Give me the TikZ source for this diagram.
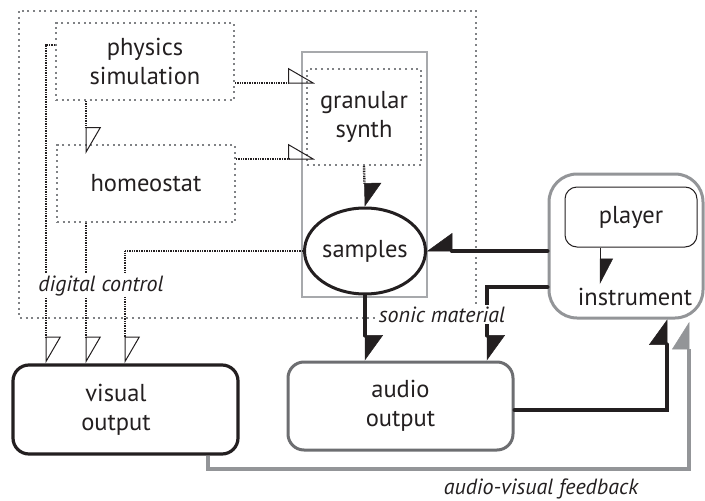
\documentclass[tikz,border=0pt]{standalone}
\usepackage{fontspec}
\setmainfont{PT Sans}
\usetikzlibrary{arrows.meta,shapes.geometric,calc}
\definecolor{ink}{HTML}{231F20}
\definecolor{dotgray}{HTML}{808285}
\definecolor{midgray}{HTML}{6D6E71}
\definecolor{ltgray}{HTML}{939598}
\definecolor{boxgray}{HTML}{A7A9AC}
\begin{document}
\begin{tikzpicture}[x=1pt,y=-1pt,
  lbl/.style={font=\fontsize{24.5}{29.5}\selectfont, align=center, text=ink},
  itl/.style={font=\fontsize{22}{26}\selectfont\itshape, text=ink},
  dotbox/.style={draw=dotgray, line width=2pt, dash pattern=on 2pt off 3.6pt, lbl},
  ctrl/.style={draw=ink, line width=2.4pt, dash pattern=on 0.9pt off 0.8pt},
  heavy/.style={draw=ink, line width=4pt, line cap=round},
  opentip/.style={-{Triangle[open, left, length=26pt, width=30pt, line width=1pt]}},
  fulltip/.style={-{Triangle[#1, length=25pt, width=36pt, line width=0.5pt]}}
]
\useasboundingbox (0,0) rectangle (705,501);
% outer digital-control frame
\draw[draw=dotgray, line width=2pt, dash pattern=on 2pt off 3.6pt] (19,11) rectangle (476,318);

\node[dotbox, minimum width=178pt, minimum height=77pt] (phys) at (145,61.5) {physics\\simulation};
\node[dotbox, minimum width=178pt, minimum height=77pt] (homeo) at (146,183.5) {homeostat};
\node[draw=boxgray, line width=2.2pt, minimum width=125pt, minimum height=245pt] (gcont) at (364.5,174.5) {};
\node[dotbox, minimum width=114pt, minimum height=96pt] (gran) at (364,117) {granular\\synth};
\node[ellipse, draw=ink, line width=3pt, minimum width=120pt, minimum height=86pt, inner sep=0pt, lbl] (samples) at (365,251) {samples};

\node[draw=ltgray, line width=3pt, rounded corners=28pt, minimum width=154pt, minimum height=144pt] (icont) at (626,246) {};
\node[draw=ink, line width=1pt, rounded corners=12pt, minimum width=132pt, minimum height=60pt, lbl] (player) at (631,217) {player};
\node[lbl, anchor=base] (instr) at (635,305) {instrument};

\node[draw=ink, line width=3.2pt, rounded corners=16pt, minimum width=225pt, minimum height=89pt] (visual) at (125.5,409.5) {};
\node[lbl] (vtext) at (116,410) {visual\\output};
\node[draw=midgray, line width=3pt, rounded corners=16pt, minimum width=225pt, minimum height=88pt, lbl] (audio) at (400.5,406) {audio\\output};

% digital control connectors
\draw[ctrl, opentip] (phys.east |- 0,83) -- ($(gran.west |- 0,83)+(9,0)$);
\draw[ctrl, opentip] (homeo.east |- 0,159) -- ($(gran.west |- 0,159)+(9,0)$);
\draw[ctrl, opentip] (phys.south -| 86,0) -- ($(homeo.north -| 86,0)+(0,10)$);
\draw[ctrl, opentip] (phys.west |- 0,45) -| (visual.north -| 46,0);
\draw[ctrl, opentip] (homeo.south -| 86,0) -- (visual.north -| 86,0);
\draw[ctrl, line width=1.6pt, opentip] (samples.west) -| (visual.north -| 125,0);
\draw[ctrl, -{Triangle[left, length=23pt, width=34pt, line width=0.5pt]}] (gran.south) -- (samples.north);

% sonic material connectors
\draw[heavy, fulltip=left] (samples.south) -- (audio.north -| samples.south);
\draw[heavy, fulltip=right] (icont.west |- samples.east) -- (samples.east);
\draw[heavy, fulltip=left] (icont.west |- 0,287) -| (audio.north -| 487,0);
\draw[heavy, fulltip=left] (audio.east |- 0,410) -| (icont.south -| 667,0);
\draw[draw=ink, line width=1pt, -{Triangle[left, length=25pt, width=26pt, line width=0.5pt]}] (player.south -| 600,0) -- (instr.north -| 600,0);

% audio-visual feedback
\coordinate (fbend) at (689,322);
\draw[draw=ltgray, line width=4pt, -{Triangle[left, length=27pt, width=34pt, line width=0.5pt, fill=ltgray]}] (visual.south -| 208,0) |- (fbend |- 0,469) -- (fbend);

% labels
\node[itl, anchor=base, fill=white, inner sep=1.5pt] (dc) at (101,291) {digital control};
\node[itl, anchor=base, fill=white, inner sep=1.5pt] (sm) at (442,322) {sonic material};
\node[itl, anchor=base, inner sep=1pt] (avf) at (541,494) {audio-visual feedback};
\end{tikzpicture}
\end{document}
